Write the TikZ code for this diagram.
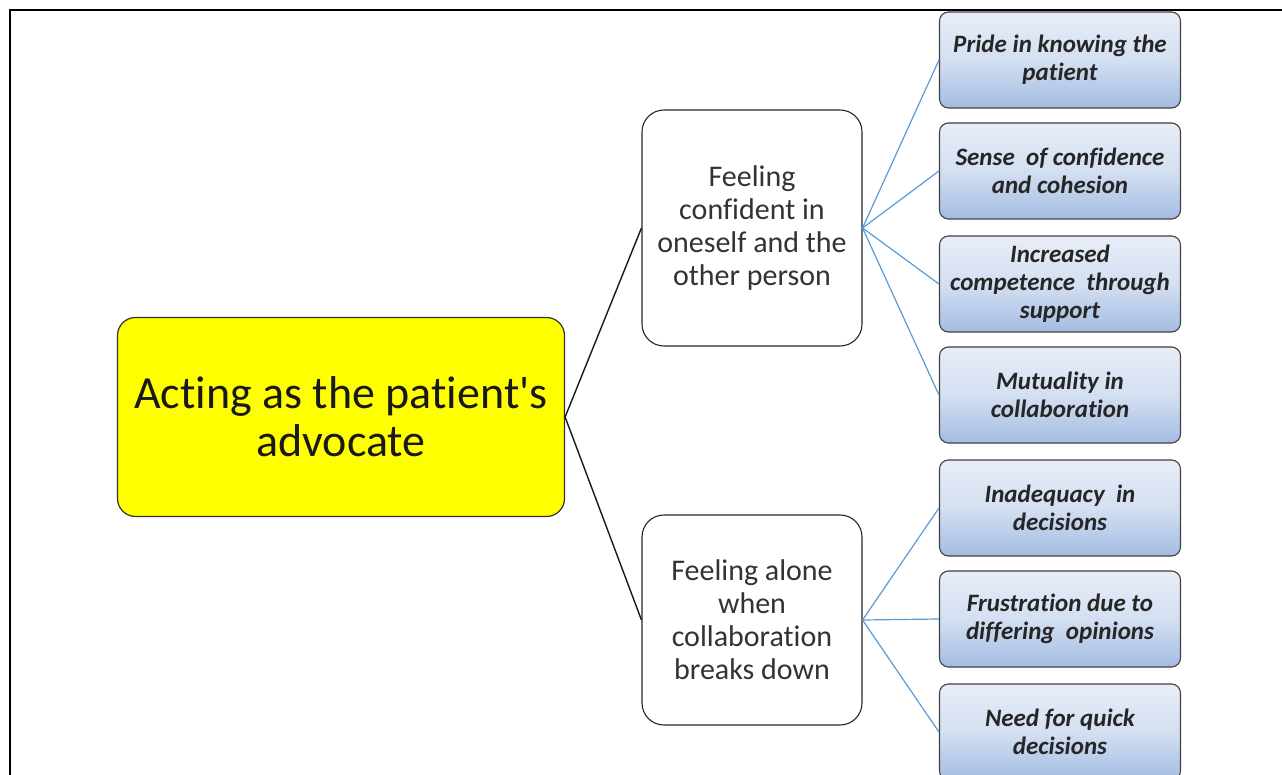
\documentclass[tikz,border=0pt]{standalone}
\usepackage{fontspec}
\setmainfont{Carlito}[Ligatures={NoCommon,TeXOff}]
\definecolor{leaftop}{RGB}{232,238,248}
\definecolor{leafbot}{RGB}{164,188,226}
\definecolor{linkblue}{RGB}{91,155,213}
\definecolor{rootyellow}{RGB}{255,255,0}

\begin{document}
\begin{tikzpicture}[x=1pt, y=-1pt,
		rootbox/.style={draw=black!80, line width=1.2pt, fill=rootyellow, rounded corners=18pt,
			minimum width=447pt, minimum height=199pt, align=center,
			font=\fontsize{46}{48}\selectfont, text=black!90},
		midbox/.style={draw=black!85, line width=1.1pt, fill=white, rounded corners=22pt,
			minimum width=220pt, align=center, font=\fontsize{30}{33}\selectfont, text=black!80},
		leafbox/.style={draw=black!75, line width=1.1pt, rounded corners=9pt,
			top color=leaftop, bottom color=leafbot, middle color=leaftop!70!leafbot,
			minimum width=241pt, minimum height=96pt, align=center,
			font=\fontsize{25}{28}\selectfont\bfseries\itshape, text=black!85},
		trunk/.style={draw=black!90, line width=1.4pt},
		twig/.style={draw=linkblue, line width=1.2pt}]
		% Fix the page size and cut the last box at the bottom edge
		\useasboundingbox (0,0) rectangle (1282,775);
		\clip (0,0) rectangle (1282,775);

		% Frame lines at top and left
		\draw[line width=2pt] (10,776) -- (10,10) -- (1283,10);

		% Main theme
		\node[rootbox] (root) at (341,417) {Acting as the patient's\\advocate};

		% Sub-themes
		\node[midbox, minimum height=236pt] (conf) at (752,228)
			{Feeling\\confident in\\oneself and the\\other person};
		\node[midbox, minimum height=210pt] (alone) at (752,620)
			{Feeling alone\\when\\collaboration\\breaks down};

		% Categories
		\node[leafbox] (pride) at (1060,60) {Pride in knowing the\\patient};
		\node[leafbox] (sense) at (1060,171) {Sense\ \ of confidence\\and cohesion};
		\node[leafbox] (compet) at (1060,284) {Increased\\competence\ \ through\\support};
		\node[leafbox] (mutual) at (1060,395) {Mutuality in\\collaboration};
		\node[leafbox] (inadeq) at (1060,508) {Inadequacy\ \ in\\decisions};
		\node[leafbox] (frust) at (1060,619) {Frustration due to\\differing\ \ opinions};
		\node[leafbox] (quick) at (1060,732) {Need for quick\\decisions};

		% Connectors
		\draw[trunk] (root.east) -- (conf.west);
		\draw[trunk] (root.east) -- (alone.west);
		\foreach \leaf in {pride,sense,compet,mutual}
			\draw[twig] (conf.east) -- (\leaf.west);
		\foreach \leaf in {inadeq,frust,quick}
			\draw[twig] (alone.east) -- (\leaf.west);
	\end{tikzpicture}
\end{document}
